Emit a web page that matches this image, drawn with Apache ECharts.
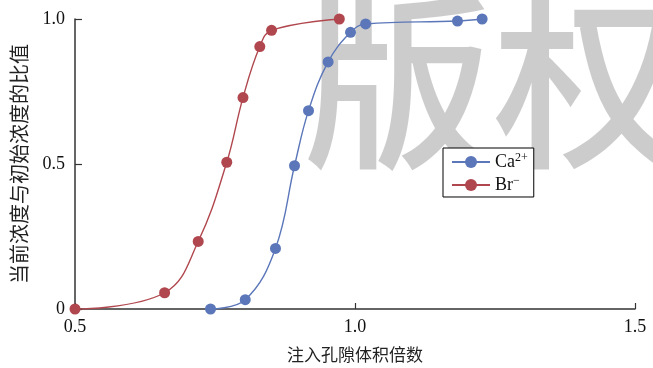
<!DOCTYPE html>
<html>
<head>
<meta charset="utf-8">
<script src="https://cdn.jsdelivr.net/npm/echarts@6/dist/echarts.min.js"></script>
<style>
  html, body { margin: 0; padding: 0; background: #fff; }
  #chart { width: 653px; height: 368px; }
</style>
</head>
<body>
<div id="chart"></div>
<script>
// Breakthrough curves: relative concentration C/C0 vs. injected pore volumes
const caPV = [0.742, 0.804, 0.858, 0.892, 0.917, 0.952, 0.992, 1.019, 1.183, 1.227];
const caRatio = [0.0, 0.032, 0.209, 0.494, 0.684, 0.852, 0.954, 0.983, 0.993, 1.0];
const brPV = [0.5, 0.66, 0.72, 0.771, 0.80, 0.83, 0.851, 0.972];
const brRatio = [0.0, 0.056, 0.233, 0.506, 0.729, 0.905, 0.961, 1.0];

const xTickLabels = { '0.5': '0.5', '1': '1.0', '1.5': '1.5' };
const yTickLabels = { '0': '0', '0.5': '0.5', '1': '1.0' };

const serifFont = '"Liberation Serif", "Noto Sans CJK SC", serif';
const cjkFont = '"Noto Sans CJK SC", sans-serif';
const blue = '#5b77b9';
const red = '#b1474e';

const pair = (xs, ys) => xs.map((x, i) => [x, ys[i]]);

const chart = echarts.init(document.getElementById('chart'), null, { renderer: 'canvas' });
chart.setOption({
  animation: false,
  backgroundColor: '#fff',
  grid: { left: 75, right: 18, top: 19, bottom: 59 },
  xAxis: {
    type: 'value',
    min: 0.5, max: 1.5, interval: 0.5,
    name: '注入孔隙体积倍数',
    nameLocation: 'middle',
    nameGap: 37,
    nameTextStyle: { fontFamily: cjkFont, fontSize: 17, color: '#222' },
    axisLine: { lineStyle: { color: '#333', width: 1.5 } },
    axisTick: { inside: true, length: 6, lineStyle: { color: '#333', width: 1.2 } },
    axisLabel: {
      margin: 9, fontFamily: serifFont, fontSize: 18, color: '#111',
      formatter: v => xTickLabels[String(v)] ?? String(v)
    },
    splitLine: { show: false }
  },
  yAxis: {
    type: 'value',
    min: 0, max: 1, interval: 0.5,
    name: '当前浓度与初始浓度的比值',
    nameLocation: 'middle',
    nameRotate: 90,
    nameGap: 46,
    nameTextStyle: { fontFamily: cjkFont, fontSize: 20, color: '#222' },
    axisLine: { show: true, lineStyle: { color: '#333', width: 1.5 } },
    axisTick: { show: true, inside: true, length: 7, lineStyle: { color: '#333', width: 1.2 } },
    axisLabel: {
      margin: 10, fontFamily: serifFont, fontSize: 18, color: '#111',
      formatter: v => yTickLabels[String(v)] ?? String(v)
    },
    splitLine: { show: false }
  },
  legend: {
    orient: 'vertical',
    left: 443, top: 148,
    z: 10,
    backgroundColor: '#fff',
    borderColor: '#000', borderWidth: 1, borderRadius: 0,
    padding: [4, 6, 3, 8],
    itemWidth: 38, itemHeight: 15, itemGap: 4,
    data: ['Ca2+', 'Br-'],
    formatter: n => n === 'Ca2+' ? '{b|Ca}{s|2+}' : '{b|Br}{s|−}',
    textStyle: {
      rich: {
        b: { fontFamily: serifFont, fontSize: 18, color: '#111' },
        s: { fontFamily: serifFont, fontSize: 12, color: '#111', verticalAlign: 'top', padding: [0, 0, 8, 0] }
      }
    }
  },
  graphic: [{
    type: 'text',
    z: 3,
    silent: true,
    x: 303, y: 81,
    style: {
      text: '版权',
      font: '500 190px "Noto Sans CJK SC"',
      fill: 'rgba(0,0,0,0.2)',
      verticalAlign: 'middle',
      align: 'left'
    }
  }],
  series: [
    {
      name: 'Ca2+', type: 'line', smooth: 0.4,
      data: pair(caPV, caRatio),
      symbol: 'circle', symbolSize: 11,
      lineStyle: { color: blue, width: 1.4 },
      itemStyle: { color: blue }
    },
    {
      name: 'Br-', type: 'line', smooth: 0.4,
      data: pair(brPV, brRatio),
      symbol: 'circle', symbolSize: 11,
      lineStyle: { color: red, width: 1.4 },
      itemStyle: { color: red }
    }
  ]
});
</script>
</body>
</html>
